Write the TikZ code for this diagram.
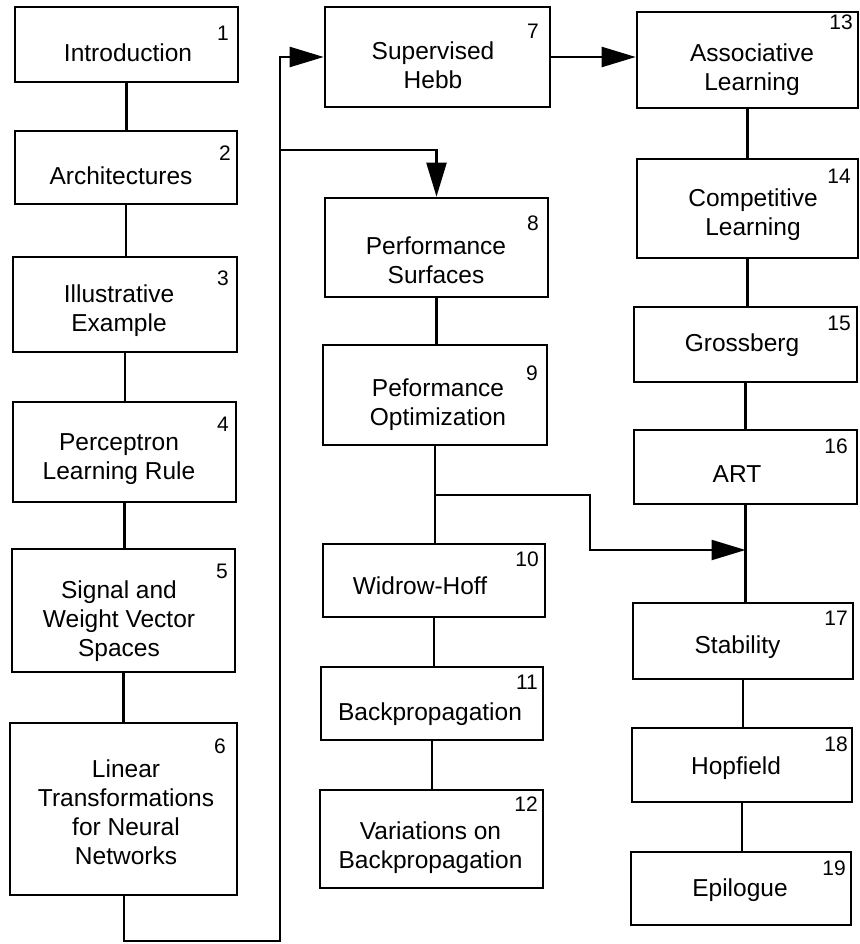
\documentclass[tikz,border=0pt]{standalone}
\usepackage{fontspec}
\setmainfont{Liberation Sans}
\usetikzlibrary{arrows.meta}
\begin{document}
\begin{tikzpicture}[x=1pt,y=-1pt,
  box/.style={draw=black, line width=2.6pt, rectangle, inner sep=0pt, fill=white},
  txt/.style={inner sep=0pt, align=center, text depth=0pt, font=\fontsize{24.5}{29}\selectfont},
  num/.style={inner sep=0pt, anchor=north east, font=\fontsize{21}{23}\selectfont},
  link/.style={draw=black, line width=2.3pt},
  arr/.style={link, -{Triangle[length=34pt,width=20pt]}}]
\useasboundingbox (0,0) rectangle (859,944);
% box macro: name, x1, y1, x2, y2
\newcommand{\mybox}[5]{\node[box, minimum width={#4-#2}, minimum height={#5-#3}] (#1) at ({(#2+#4)/2},{(#3+#5)/2}) {};}
% column 1
\mybox{b1}{15}{7}{238}{82}
\mybox{b2}{15}{131}{237}{204}
\mybox{b3}{13}{257}{237}{352}
\mybox{b4}{13}{402}{236}{502}
\mybox{b5}{12}{549}{235}{672}
\mybox{b6}{10}{723}{237}{895}
% column 2
\mybox{b7}{325}{7}{550}{107}
\mybox{b8}{325}{198}{548}{297}
\mybox{b9}{323}{345}{547}{445}
\mybox{b10}{323}{544}{545}{617}
\mybox{b11}{321}{667}{543}{740}
\mybox{b12}{320}{790}{543}{888}
% column 3
\mybox{b13}{637}{12}{858}{108}
\mybox{b14}{637}{159}{858}{258}
\mybox{b15}{634}{307}{857}{382}
\mybox{b16}{634}{430}{857}{504}
\mybox{b17}{633}{603}{853}{679}
\mybox{b18}{632}{728}{852}{802}
\mybox{b19}{631}{852}{851}{925}
% texts
\node[txt] (t1) at (128,52.5) {Introduction};
\node[txt] (t2) at (121,176) {Architectures};
\node[txt] (t3) at (119,308) {Illustrative\\Example};
\node[txt] (t4) at (119,457) {Perceptron\\Learning Rule};
\node[txt] (t5) at (119,619) {Signal and\\Weight Vector\\Spaces};
\node[txt] (t6) at (126,812.5) {Linear\\Transformations\\for Neural\\Networks};
\node[txt] (t7) at (433,65.5) {Supervised\\Hebb};
\node[txt] (t8) at (436,260) {Performance\\Surfaces};
\node[txt] (t9) at (438,402.5) {Peformance\\Optimization};
\node[txt] (t10) at (420,586) {Widrow-Hoff};
\node[txt] (t11) at (430,711.5) {Backpropagation};
\node[txt] (t12) at (430.5,845) {Variations on\\Backpropagation};
\node[txt] (t13) at (752,67.5) {Associative\\Learning};
\node[txt] (t14) at (753,212) {Competitive\\Learning};
\node[txt] (t15) at (742,342.5) {Grossberg};
\node[txt] (t16) at (737,474) {ART};
\node[txt] (t17) at (737.5,645) {Stability};
\node[txt] (t18) at (736,766) {Hopfield};
\node[txt] (t19) at (740,887.5) {Epilogue};
% numbers
\node[num] (n1) at (229,26) {1};
\node[num] (n2) at (231,146) {2};
\node[num] (n3) at (229,271) {3};
\node[num] (n4) at (229,417) {4};
\node[num] (n5) at (228,564) {5};
\node[num] (n6) at (226,739) {6};
\node[num] (n7) at (539,24) {7};
\node[num] (n8) at (539,216) {8};
\node[num] (n9) at (538,366) {9};
\node[num] (n10) at (539,552) {10};
\node[num] (n11) at (538,675) {11};
\node[num] (n12) at (538,797) {12};
\node[num] (n13) at (853,15) {13};
\node[num] (n14) at (851,169) {14};
\node[num] (n15) at (851,316) {15};
\node[num] (n16) at (848,439) {16};
\node[num] (n17) at (848,611) {17};
\node[num] (n18) at (848,737) {18};
\node[num] (n19) at (846,861) {19};
% vertical connectors
\foreach \a/\b in {b1/b2,b2/b3,b3/b4,b4/b5,b5/b6,b8/b9,b9/b10,b10/b11,b11/b12,b13/b14,b14/b15,b15/b16,b16/b17,b17/b18,b18/b19}
  \draw[link] (\a.south) -- (\a.south |- \b.north);
% coordinates for bends
\coordinate (c6) at (124,941);
\coordinate (cl) at (280,941);
\coordinate (ct) at (280,57);
\coordinate (cb) at (280,150);
\coordinate (s9) at (435,495);
\coordinate (r9) at (590,495);
\coordinate (d9) at (590,550);
\coordinate (j16) at (745.5,550);
% loop from 6 to 7 and 8
\draw[arr] (b6.south -| c6) -- (c6) -- (cl) -- (ct) -- (b7.west);
\draw[arr] (cb) -| (b8.north);
% 7 to 13
\draw[arr] (b7.east) -- (b7.east -| b13.west);
% 9 to line 16-17
\draw[arr] (s9) -- (r9) -- (d9) -- (j16);
\end{tikzpicture}
\end{document}
